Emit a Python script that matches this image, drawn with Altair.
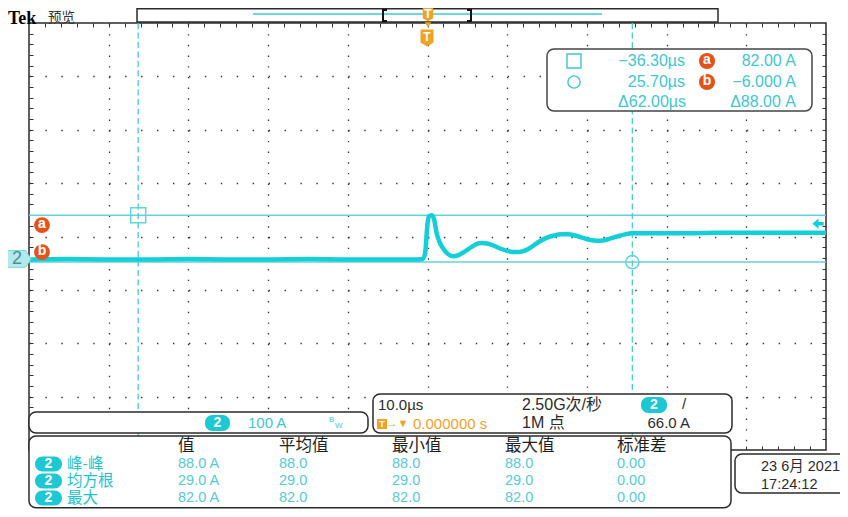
import altair as alt
import pandas as pd

TIME_US = [-50, -45, -40, -35, -30, -25, -20, -15, -10, -5,
           -2, -0.6, -0.3, 0.0, 0.2, 0.5, 0.8, 1.15, 1.5, 1.95,
           2.5, 3.2, 3.9, 4.7, 5.5, 6.2, 6.8, 7.5, 8.3, 9.2,
           10.0, 10.7, 11.5, 12.3, 13.2, 14.1, 15.0, 15.9, 16.8, 17.6,
           18.5, 19.4, 20.3, 21.3, 22.2, 23.1, 24.0, 24.8, 25.6, 26.5,
           28.0, 30.0, 33.0, 36.0, 40.0, 44.0, 47.0, 50.0]
CURRENT_A = [-1, 0, -1, -1, 0, -1, -1, 0, -1, -1,
             -1, 0, 10, 66, 80, 82, 76, 48, 32, 20,
             10, 5, 7, 14, 22, 28, 30, 29, 25, 19,
             15, 13, 13, 16, 24, 33, 40, 44, 46, 46,
             44, 40, 36, 34, 35, 39, 43, 46, 48, 48,
             48, 48, 48, 49, 49, 49, 49, 49]
CURSOR_TIME_US = [-36.3, 25.7]
CURSOR_LEVEL_A = [82.0, -6.0]
TRIGGER_LEVEL_A = 66.0
TRIGGER_TIME_S = 0.0
TIME_PER_DIV_US = 10.0
AMPS_PER_DIV = 100
SAMPLE_RATE = "2.50G次/秒"
RECORD_LENGTH = "1M 点"
MEAS_HEADERS = ["值", "平均值", "最小值", "最大值", "标准差"]
MEAS_NAMES = ["峰-峰", "均方根", "最大"]
MEAS_VALUE = [88.0, 29.0, 82.0]
MEAS_MEAN = [88.0, 29.0, 82.0]
MEAS_MIN = [88.0, 29.0, 82.0]
MEAS_MAX = [88.0, 29.0, 82.0]
MEAS_STD = [0.0, 0.0, 0.0]
DATE_TEXT = ["23 6月 2021", "17:24:12"]

# ---------------- graticule (10 x 8 divisions) ----------------
TIME_DOMAIN = [-5 * TIME_PER_DIV_US, 5 * TIME_PER_DIV_US]
AMP_TOP = 442.0
AMP_DOMAIN = [AMP_TOP - 8 * AMPS_PER_DIV, AMP_TOP]
T_MAJOR = [TIME_PER_DIV_US * k for k in range(-4, 5)]
T_MINOR = [TIME_PER_DIV_US / 5 * k for k in range(-24, 25)]
A_MAJOR = [AMP_TOP - AMPS_PER_DIV * k for k in range(1, 8)]
A_MINOR = [AMP_TOP - AMPS_PER_DIV / 5 * k for k in range(1, 40)]

# ---------------- layout / style ----------------
OX, OY = 29, 23          # plot origin on the page
W, H = 797, 427
CYAN = "#12cfd8"
CURSOR = "#62d3d9"
TXT = "#3fc6ce"
LABEL = "#22c2cc"
PILL = "#1cc8d3"
ORANGE = "#f0a226"
RED = "#e4521b"
DARK = "#2b2b2b"
LAT = "Liberation Sans, Noto Sans CJK SC"
CJK = "Noto Sans CJK SC, Liberation Sans"

xs = alt.Scale(domain=TIME_DOMAIN, nice=False, zero=False)
ys = alt.Scale(domain=AMP_DOMAIN, nice=False, zero=False)
wave = pd.DataFrame({"t": TIME_US, "a": CURRENT_A})


def fmt(v, d):
    return f"{v:.{d}f}".replace("-", "−")


def px(x):
    return x - OX


def py(y):
    return y - OY


def texts(rows, color, size, font=LAT, align="left", weight="normal", baseline="middle"):
    df = pd.DataFrame({"px": [px(r[0]) for r in rows],
                       "py": [py(r[1]) for r in rows],
                       "s": [r[2] for r in rows]})
    return alt.Chart(df).mark_text(color=color, fontSize=size, font=font, align=align,
                                   fontWeight=weight, baseline=baseline).encode(
        x=alt.X("px:Q", scale=None, axis=None),
        y=alt.Y("py:Q", scale=None, axis=None),
        text="s:N")


def rects(rows, r=0, sw=1.5, **props):
    df = pd.DataFrame({"x1": [px(q[0]) for q in rows], "y1": [py(q[1]) for q in rows],
                       "x2": [px(q[2]) for q in rows], "y2": [py(q[3]) for q in rows]})
    return alt.Chart(df).mark_rect(cornerRadius=r, strokeWidth=sw, **props).encode(
        x=alt.X("x1:Q", scale=None, axis=None), x2="x2:Q",
        y=alt.Y("y1:Q", scale=None, axis=None), y2="y2:Q")


def syms(rows, shape, size, **props):
    df = pd.DataFrame({"px": [px(q[0]) for q in rows], "py": [py(q[1]) for q in rows]})
    return alt.Chart(df).mark_point(shape=shape, size=size, opacity=1, **props).encode(
        x=alt.X("px:Q", scale=None, axis=None),
        y=alt.Y("py:Q", scale=None, axis=None))


def rules(rows, color, sw=1.5, **props):
    df = pd.DataFrame({"x1": [px(q[0]) for q in rows], "y1": [py(q[1]) for q in rows],
                       "x2": [px(q[2]) for q in rows], "y2": [py(q[3]) for q in rows]})
    return alt.Chart(df).mark_rule(color=color, strokeWidth=sw, **props).encode(
        x=alt.X("x1:Q", scale=None, axis=None), x2="x2:Q",
        y=alt.Y("y1:Q", scale=None, axis=None), y2="y2:Q")


def axis_layer(xaxis, yaxis):
    return alt.Chart(wave).mark_line(opacity=0).encode(
        x=alt.X("t:Q", scale=xs, axis=xaxis),
        y=alt.Y("a:Q", scale=ys, axis=yaxis))


plain = dict(labels=False, domain=False, title="")
dx = W / 50.0
dy = H / 40.0
grid_layer = axis_layer(
    alt.Axis(orient="bottom", values=T_MAJOR, grid=True, gridColor="#333333",
             gridDash=[1.4, dy - 1.4], gridWidth=1.3, ticks=False, **plain),
    alt.Axis(orient="left", values=A_MAJOR, grid=True, gridColor="#333333",
             gridDash=[1.4, dx - 1.4], gridWidth=1.3, ticks=False, **plain))
tick_kw = dict(grid=False, ticks=True, tickSize=4, tickColor="#333333",
               tickWidth=1, offset=-4, **plain)
ticks_a = axis_layer(alt.Axis(orient="top", values=T_MINOR, **tick_kw),
                     alt.Axis(orient="left", values=A_MINOR, **tick_kw))
ticks_b = axis_layer(alt.Axis(orient="bottom", values=T_MINOR, **tick_kw),
                     alt.Axis(orient="right", values=A_MINOR, **tick_kw))

# cursors
h_cursors = alt.Chart(pd.DataFrame({"a": CURSOR_LEVEL_A})).mark_rule(
    color=CURSOR, strokeWidth=1.5).encode(y=alt.Y("a:Q", scale=ys, axis=None))
v_cursors = alt.Chart(pd.DataFrame({"t": CURSOR_TIME_US})).mark_rule(
    color="#4ecad2", strokeWidth=1.3, strokeDash=[6, 3.5]).encode(
    x=alt.X("t:Q", scale=xs, axis=None))

trace = alt.Chart(wave).mark_line(color=CYAN, strokeWidth=4.5, interpolate="monotone").encode(
    x=alt.X("t:Q", scale=xs, axis=None), y=alt.Y("a:Q", scale=ys, axis=None))

cur_df = pd.DataFrame({"t": CURSOR_TIME_US, "a": CURSOR_LEVEL_A})
cur_sq = alt.Chart(cur_df.iloc[[0]]).mark_point(shape="square", size=225, color=CURSOR,
                                                 strokeWidth=1.5, opacity=1).encode(
    x=alt.X("t:Q", scale=xs, axis=None), y=alt.Y("a:Q", scale=ys, axis=None))
cur_ci = alt.Chart(cur_df.iloc[[1]]).mark_point(shape="circle", size=177, color=CURSOR,
                                                 strokeWidth=1.5, opacity=1).encode(
    x=alt.X("t:Q", scale=xs, axis=None), y=alt.Y("a:Q", scale=ys, axis=None))

# trigger level arrow on the right edge
trig_arrow = alt.Chart(pd.DataFrame({"a": [TRIGGER_LEVEL_A]})).mark_point(
    shape="M-1,0 L0.1,-0.9 L0.1,-0.3 L1,-0.3 L1,0.3 L0.1,0.3 L0.1,0.9 Z",
    size=130, filled=True, color=CYAN, opacity=1).encode(
    x=alt.value(W - 8), y=alt.Y("a:Q", scale=ys, axis=None))

# channel 2 ground marker
ch_df = pd.DataFrame({"a": [0.0]})
ch_mark = alt.Chart(ch_df).mark_point(
    shape="M-1,-0.7 L0.55,-0.7 L1,0 L0.55,0.7 L-1,0.7 Z", size=576, filled=True,
    fill="#b2e9ed", stroke="#7cd6dc", strokeWidth=1, opacity=1).encode(
    x=alt.value(px(19)), y=alt.Y("a:Q", scale=ys, axis=None))
ch_text = alt.Chart(ch_df).mark_text(text="2", color="#4d8e94", fontSize=18, font=LAT,
                                     baseline="middle", align="center").encode(
    x=alt.value(px(17)), y=alt.Y("a:Q", scale=ys, axis=None))

# a / b cursor labels at the left edge
ab_layers = []
for lvl, letter, off in zip(CURSOR_LEVEL_A, ["a", "b"], [10, -10]):
    d = pd.DataFrame({"a": [lvl]})
    ab_layers.append(alt.Chart(d).mark_circle(size=250, color=RED, opacity=1, yOffset=off).encode(
        x=alt.value(px(42)), y=alt.Y("a:Q", scale=ys, axis=None)))
    ab_layers.append(alt.Chart(d).mark_text(text=letter, color="white", fontSize=14, fontWeight="bold",
                                            font=LAT, baseline="middle", align="center",
                                            yOffset=off - 1).encode(
        x=alt.value(px(42)), y=alt.Y("a:Q", scale=ys, axis=None)))

# ---------------- top chrome ----------------
title_tek = texts([(8, 23.5, "Tek")], "#000000", 18, font="Liberation Serif", weight="bold",
                  baseline="alphabetic")
title_cn = texts([(48, 17.5, "预览")], "#333333", 13.5, font=CJK)
rec_bar = rects([(137, 8.8, 718, 22)], fill="white", stroke=DARK, sw=1.5)
rec_line = rules([(253, 14, 602, 14)], "#6fd6da", sw=2)
brackets = rules([(383, 9, 383, 22), (471, 9, 471, 22), (383, 10, 387, 10), (383, 21, 387, 21),
                  (467, 10, 471, 10), (467, 21, 471, 21)], "#111111", sw=2)
shield = "M-1,-1.3 L1,-1.3 L1,0.7 L0,1.3 L-1,0.7 Z"
t_up = syms([(428, 14.5)], shield, 110, filled=True, color=ORANGE)
t_up_arrow = syms([(428, 25)], "triangle-down", 40, filled=True, color=ORANGE)
t_low = syms([(427, 38)], shield, 169, filled=True, color=ORANGE)
t_letters = texts([(428, 14, "T"), (427, 37, "T")], "white", 12, weight="bold", align="center")

# ---------------- cursor readout ----------------
dt = CURSOR_TIME_US[1] - CURSOR_TIME_US[0]
da = CURSOR_LEVEL_A[0] - CURSOR_LEVEL_A[1]
ro_box = rects([(547, 49, 812, 111)], r=7, fill="white", stroke="#444444", sw=1.5)
ro_sq = syms([(574, 61)], "square", 196, color=TXT, strokeWidth=1.4)
ro_ci = syms([(574, 82)], "circle", 150, color=TXT, strokeWidth=1.4)
ro_red = syms([(707, 61), (707, 82)], "circle", 260, filled=True, color=RED)
ro_letters = texts([(707, 60, "a"), (707, 81, "b")], "white", 14, weight="bold", align="center")
ro_text = texts([(685, 61, fmt(CURSOR_TIME_US[0], 2) + "µs"),
                 (796, 61, fmt(CURSOR_LEVEL_A[0], 2) + " A"),
                 (685, 82, fmt(CURSOR_TIME_US[1], 2) + "µs"),
                 (796, 82, fmt(CURSOR_LEVEL_A[1], 3) + " A"),
                 (686, 102, "Δ" + fmt(dt, 2) + "µs"),
                 (796, 102, "Δ" + fmt(da, 2) + " A")], TXT, 16, align="right")

# ---------------- bottom panels ----------------
ch_box = rects([(29, 412, 368, 433)], r=7, fill="white", stroke=DARK, sw=1.5)
hz_box = rects([(373, 394, 732, 433)], r=7, fill="white", stroke=DARK, sw=1.5)
tb_box = rects([(29, 436, 731, 507.8)], r=7, fill="white", stroke=DARK, sw=1.5)
dt_box = rects([(735, 454, 870, 493)], r=7, fill="white", stroke=DARK, sw=1.5)
row_y = [464, 481, 498]
pills = rects([(205, 415, 230, 431), (641, 397, 667, 413)] +
              [(35, y - 7.5, 62, y + 7.5) for y in row_y], r=7.5, fill=PILL)
pill_txt = texts([(217.5, 423, "2"), (654, 405, "2")] + [(48.5, y, "2") for y in row_y],
                 "white", 14, weight="bold", align="center")
ch_txt = texts([(248, 423, f"{AMPS_PER_DIV} A")], TXT, 15)
bw_txt = texts([(329, 420, "B"), (335, 426, "W")], TXT, 8)
hz_txt = texts([(378, 405, f"{TIME_PER_DIV_US:.1f}µs")], DARK, 15)
hz_trig_lvl = texts([(690, 423, f"{TRIGGER_LEVEL_A:.1f} A")], DARK, 15, align="right")
hz_txt2 = texts([(522, 405, SAMPLE_RATE), (522, 423, RECORD_LENGTH)], DARK, 16)
hz_edge = texts([(684, 404, "/")], DARK, 15, align="center")
hz_trig_box = rects([(377, 419, 387, 429)], fill=ORANGE)
hz_trig_T = texts([(382, 424, "T")], "white", 9, weight="bold", align="center")
hz_trig_sym = texts([(392, 424, "→"), (403, 424, "▼")], ORANGE, 11, align="center")
hz_trig_txt = texts([(413, 424, f"{TRIGGER_TIME_S:.6f} s")], ORANGE, 15)

col_x = [178, 279, 392, 505, 617]
tb_head = texts([(x, 446, h) for x, h in zip(col_x, MEAS_HEADERS)], "#1e1e1e", 16.5, font=CJK)
tb_names = texts([(67, y, n) for y, n in zip(row_y, MEAS_NAMES)], LABEL, 15.5, font=CJK)
vals = []
for i, y in enumerate(row_y):
    vals.append((col_x[0], y, f"{MEAS_VALUE[i]:.1f} A"))
    vals.append((col_x[1], y, f"{MEAS_MEAN[i]:.1f}"))
    vals.append((col_x[2], y, f"{MEAS_MIN[i]:.1f}"))
    vals.append((col_x[3], y, f"{MEAS_MAX[i]:.1f}"))
    vals.append((col_x[4], y, f"{MEAS_STD[i]:.2f}"))
tb_vals = texts(vals, "#58cad2", 14.5)
date_txt = texts([(761, 467, DATE_TEXT[0]), (761, 485, DATE_TEXT[1])], DARK, 14.5)

layers = [grid_layer, ticks_a, ticks_b, h_cursors, v_cursors, trace, cur_sq, cur_ci,
          trig_arrow, ch_mark, ch_text] + ab_layers + [
    title_tek, title_cn, rec_bar, rec_line, brackets, t_up, t_up_arrow, t_low, t_letters,
    ro_box, ro_sq, ro_ci, ro_red, ro_letters, ro_text,
    ch_box, hz_box, tb_box, dt_box, pills, pill_txt, ch_txt, bw_txt,
    hz_txt, hz_trig_lvl, hz_txt2, hz_edge, hz_trig_box, hz_trig_T, hz_trig_sym, hz_trig_txt,
    tb_head, tb_names, tb_vals, date_txt]

chart = alt.layer(*layers).resolve_axis(x="independent", y="independent").properties(
    width=W, height=H,
    autosize=alt.AutoSizeParams(type="none"),
    padding={"left": 21, "top": 15, "right": 14, "bottom": 59},
    background="white",
).configure_view(stroke=DARK, strokeWidth=1.5)

chart.save("out.html", embed_options={"renderer": "svg", "actions": False})
